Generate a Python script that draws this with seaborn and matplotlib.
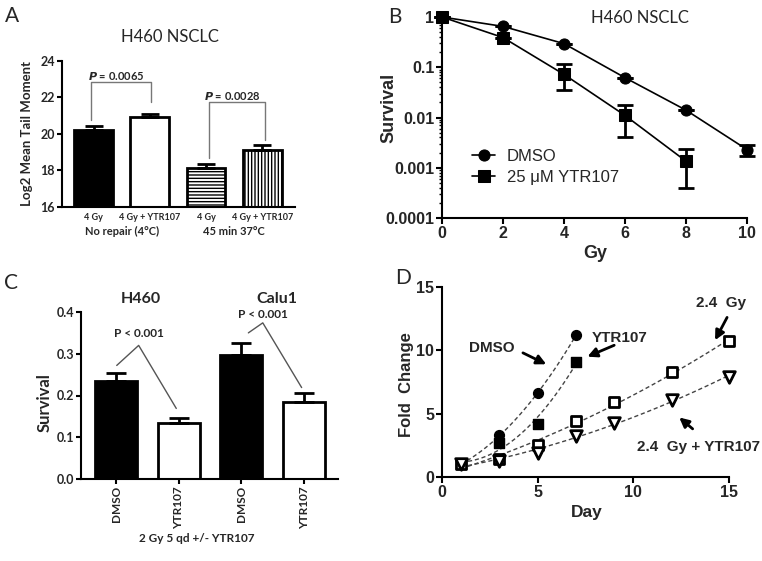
import numpy as np
import pandas as pd
import matplotlib
matplotlib.use("Agg")
import matplotlib.pyplot as plt
import seaborn as sns

W, H = 762, 561

# ---- panel A : comet assay, log2 mean tail moment
a_bars = ["4 Gy 4C", "4 Gy + YTR107 4C", "4 Gy 37C", "4 Gy + YTR107 37C"]
a_ticks = ["4 Gy", "4 Gy + YTR107", "4 Gy", "4 Gy + YTR107"]
a_groups = ["No repair (4°C)", "45 min 37°C"]
a_mean = [20.22, 20.93, 18.16, 19.10]
a_err = [0.22, 0.17, 0.18, 0.30]
a_pvals = ["0.0065", "0.0028"]

# ---- panel B : clonogenic survival
b_dose_dmso = [0, 2, 4, 6, 8, 10]
b_dmso = [1.0, 0.65, 0.295, 0.062, 0.014, 0.0023]
b_dmso_lo = [1.0, 0.65, 0.295, 0.062, 0.014, 0.0017]
b_dmso_hi = [1.0, 0.65, 0.295, 0.062, 0.014, 0.0028]
b_dose_ytr = [0, 2, 4, 6, 8]
b_ytr = [1.0, 0.39, 0.072, 0.011, 0.00135]
b_ytr_lo = [1.0, 0.39, 0.036, 0.0041, 0.00039]
b_ytr_hi = [1.0, 0.39, 0.118, 0.018, 0.0024]
b_names = ["DMSO", "25 \u03bcM YTR107"]
b_yticks = [0.0001, 0.001, 0.01, 0.1, 1]
b_ylabels = ["0.0001", "0.001", "0.01", "0.1", "1"]

# ---- panel C : fractionated survival
c_bars = ["DMSO H460", "YTR107 H460", "DMSO Calu1", "YTR107 Calu1"]
c_ticks = ["DMSO", "YTR107", "DMSO", "YTR107"]
c_lines = ["H460", "Calu1"]
c_mean = [0.234, 0.133, 0.297, 0.185]
c_err = [0.020, 0.012, 0.028, 0.020]

# ---- panel D : growth curves
d_days_short = [1, 3, 5, 7]
d_dmso = [1.0, 3.3, 6.6, 11.2]
d_ytr = [1.0, 2.7, 4.2, 9.1]
d_days_long = [1, 3, 5, 7, 9, 12, 15]
d_gy = [1.0, 1.4, 2.5, 4.4, 5.9, 8.3, 10.7]
d_gy_ytr = [1.0, 1.3, 1.9, 3.2, 4.3, 6.1, 7.9]

sns.set_style("ticks")
plt.rcParams["font.family"] = ["Liberation Sans", "DejaVu Sans"]
CAL = ["Lato", "DejaVu Sans"]


def box(l, t, r, b):
    return [l / W, 1 - b / H, (r - l) / W, (b - t) / H]


def style_axes(ax, lw=1.5, tl=3.5):
    sns.despine(ax=ax)
    for s in ["left", "bottom"]:
        ax.spines[s].set_linewidth(lw)
        ax.spines[s].set_color("black")
    ax.tick_params(width=lw, length=tl, color="black", direction="out", pad=1.5)


fig = plt.figure(figsize=(W / 100, H / 100), dpi=100)

# ================= A
axA = fig.add_axes(box(62, 61, 295, 207))
dfA = pd.DataFrame({"cond": a_bars, "val": a_mean})
sns.barplot(data=dfA, x="cond", y="val", ax=axA, width=0.69, color="white",
            saturation=1, edgecolor="black", linewidth=2, errorbar=None)
for p, fc, h in zip(axA.patches, ["black", "white", "white", "white"],
                    ["", "", "-----", "|||||"]):
    p.set_facecolor(fc)
    p.set_hatch(h)
axA.errorbar(range(4), a_mean, yerr=[np.zeros(4), a_err], fmt="none",
             ecolor="black", elinewidth=2, capsize=6.5, capthick=2, zorder=5)
axA.set_ylim(16, 24)
axA.set_xlim(-0.56, 3.58)
axA.set_yticks([16, 18, 20, 22, 24])
axA.set_yticklabels(["16", "18", "20", "22", "24"], fontfamily=CAL,
                    fontweight="bold", fontsize=9)
axA.set_xticks(range(4))
axA.set_xticklabels(a_ticks, fontfamily=CAL, fontweight="bold", fontsize=6.5)
style_axes(axA)
axA.tick_params(axis="x", length=0, pad=4)
axA.set_xlabel("")
axA.set_ylabel("")
for i, g in enumerate(a_groups):
    axA.text(2 * i + 0.5, -0.165, g, transform=axA.get_xaxis_transform(),
             ha="center", va="center", fontfamily=CAL, fontweight="bold",
             fontsize=8)
# significance brackets
br = [(-0.05, 1.02, 20.77, 21.77, 22.83), (2.05, 3.05, 18.67, 19.67, 21.74)]
for (x0, x1, y0, y1, top), pv in zip(br, a_pvals):
    axA.plot([x0, x0, x1, x1], [y0, top, top, y1], color="#777777", lw=1,
             clip_on=False)
    axA.text((x0 + x1) / 2 - 0.08, top + 0.35, "$\\mathbfit{P}$ = " + pv,
             ha="center", va="center", fontfamily=CAL, fontweight="bold",
             fontsize=8)
fig.text(27 / W, 1 - 134 / H, "Log2 Mean Tail Moment", rotation=90,
         ha="center", va="center", fontfamily=CAL, fontweight="bold",
         fontsize=9.5)
fig.text(170 / W, 1 - 37 / H, "H460 NSCLC", ha="center", va="center",
         fontfamily=CAL, fontsize=12)

# ================= B
axB = fig.add_axes(box(442, 17, 747, 218))
dfB = pd.DataFrame({
    "dose": b_dose_dmso + b_dose_ytr,
    "surv": b_dmso + b_ytr,
    "treat": [b_names[0]] * len(b_dmso) + [b_names[1]] * len(b_ytr),
})
sns.lineplot(data=dfB, x="dose", y="surv", style="treat",
             markers={b_names[0]: "o", b_names[1]: "s"}, dashes=False,
             color="black", markersize=8, linewidth=1.2,
             markeredgecolor="black", ax=axB)
for xs, ys, lo, hi in [(b_dose_dmso, b_dmso, b_dmso_lo, b_dmso_hi),
                       (b_dose_ytr, b_ytr, b_ytr_lo, b_ytr_hi)]:
    ys = np.array(ys)
    axB.errorbar(xs, ys, yerr=[ys - np.array(lo), np.array(hi) - ys],
                 fmt="none", ecolor="black", elinewidth=2, capsize=5.5,
                 capthick=2, clip_on=False)
for ln in axB.lines:
    ln.set_clip_on(False)
axB.set_yscale("log")
axB.set_ylim(1e-4, 1)
axB.set_xlim(0, 10)
axB.set_yticks(b_yticks)
axB.set_yticklabels(b_ylabels, fontweight="bold", fontsize=11.5)
axB.set_xticks([0, 2, 4, 6, 8, 10])
axB.set_xticklabels(["0", "2", "4", "6", "8", "10"], fontweight="bold",
                    fontsize=11.5)
style_axes(axB, lw=1.5, tl=4)
axB.tick_params(which="minor", width=1, length=2.5, color="black")
axB.set_xlabel("")
axB.set_ylabel("")
leg = axB.get_legend()
handles = leg.legend_handles
labels = [t.get_text() for t in leg.get_texts()]
axB.legend(handles, labels, loc="upper left",
           bbox_to_anchor=(472 / W, 1 - 149 / H),
           bbox_transform=fig.transFigure, frameon=False, fontsize=12,
           handlelength=1.4, handletextpad=0.7, labelspacing=0.35,
           borderpad=0, borderaxespad=0)
fig.text(595 / W, 1 - 253 / H, "Gy", ha="center", va="center",
         fontweight="bold", fontsize=13)
fig.text(389 / W, 1 - 108 / H, "Survival", rotation=90, ha="center",
         va="center", fontweight="bold", fontsize=13)
fig.text(640 / W, 1 - 18 / H, "H460 NSCLC", ha="center", va="center",
         fontfamily=CAL, fontsize=12)

# ================= C
axC = fig.add_axes(box(81, 312, 338, 479))
dfC = pd.DataFrame({"cond": c_bars, "val": c_mean})
sns.barplot(data=dfC, x="cond", y="val", ax=axC, width=0.67, color="white",
            saturation=1, edgecolor="black", linewidth=2, errorbar=None)
for p, fc in zip(axC.patches, ["black", "white", "black", "white"]):
    p.set_facecolor(fc)
axC.errorbar(range(4), c_mean, yerr=[np.zeros(4), c_err], fmt="none",
             ecolor="black", elinewidth=2, capsize=7.5, capthick=2, zorder=5)
axC.set_ylim(0, 0.4)
axC.set_xlim(-0.56, 3.54)
axC.set_yticks([0, 0.1, 0.2, 0.3, 0.4])
axC.set_yticklabels(["0.0", "0.1", "0.2", "0.3", "0.4"], fontfamily=CAL,
                    fontweight="bold", fontsize=9)
axC.set_xticks(range(4))
axC.set_xticklabels(c_ticks, rotation=90, fontfamily=CAL, fontweight="bold",
                    fontsize=8.5)
style_axes(axC)
axC.set_xlabel("")
axC.set_ylabel("")
for xs, ys, tx, ty in [([0.01, 0.36, 0.96], [0.272, 0.32, 0.169], 0.36, 0.349),
                       ([2.11, 2.34, 2.96], [0.35, 0.374, 0.219], 2.35, 0.393)]:
    axC.plot(xs, ys, color="#555555", lw=1, clip_on=False)
    axC.text(tx, ty, "P < 0.001", ha="center", va="center", fontfamily=CAL,
             fontweight="bold", fontsize=8.5)
for x, t in zip([141, 277], c_lines):
    fig.text(x / W, 1 - 299 / H, t, ha="center", va="center", fontfamily=CAL,
             fontweight="bold", fontsize=11.5)
fig.text(45 / W, 1 - 403 / H, "Survival", rotation=90, ha="center",
         va="center", fontfamily=CAL, fontweight="bold", fontsize=12)
fig.text(197 / W, 1 - 539 / H, "2 Gy 5 qd +/- YTR107", ha="center",
         va="center", fontfamily=CAL, fontweight="bold", fontsize=8.5)

# ================= D
axD = fig.add_axes(box(442, 287, 729, 477))
series = [(d_days_short, d_dmso, "o", "black", 50),
          (d_days_short, d_ytr, "s", "black", 50),
          (d_days_long, d_gy, "s", "white", 60),
          (d_days_long, d_gy_ytr, "v", "white", 70)]
for days, vals, mk, fc, sz in series:
    days = np.array(days, dtype=float)
    vals = np.array(vals)
    # second order polynomial fit through each growth series
    coef = np.polyfit(days, vals, 2)
    xs = np.linspace(days[0], days[-1], 100)
    sns.lineplot(x=xs, y=np.polyval(coef, xs), ax=axD,
                 color="#444444", lw=1, linestyle=(0, (3, 2)), zorder=2)
    sns.scatterplot(x=days, y=vals, ax=axD, marker=mk, s=sz, color=fc,
                    edgecolor="black", linewidth=2 if fc == "white" else 1,
                    zorder=3, clip_on=False)
axD.set_xlim(0, 15)
axD.set_ylim(0, 15)
axD.set_xticks([0, 5, 10, 15])
axD.set_xticklabels(["0", "5", "10", "15"], fontweight="bold", fontsize=11.5)
axD.set_yticks([0, 5, 10, 15])
axD.set_yticklabels(["0", "5", "10", "15"], fontweight="bold", fontsize=11.5)
style_axes(axD, lw=1.5, tl=4)
axD.set_xlabel("")
axD.set_ylabel("")
notes = [("DMSO", (2.6, 10.2), (4.23, 9.8), (5.45, 8.9)),
         ("YTR107", (9.3, 10.95), (9.0, 10.4), (7.6, 9.5)),
         ("2.4  Gy", (14.6, 13.7), (14.9, 12.6), (14.27, 10.8)),
         ("2.4  Gy + YTR107", (13.4, 2.37), (13.1, 3.8), (12.4, 4.7))]
for txt, tpos, tail, tip in notes:
    axD.text(tpos[0], tpos[1], txt, ha="center", va="center",
             fontweight="bold", fontsize=11)
    axD.annotate("", xy=tip, xytext=tail,
                 arrowprops=dict(arrowstyle="-|>", color="black", lw=2,
                                 mutation_scale=14, shrinkA=0, shrinkB=0))
fig.text(407 / W, 1 - 385 / H, "Fold  Change", rotation=90, ha="center",
         va="center", fontweight="bold", fontsize=12)
fig.text(587 / W, 1 - 513 / H, "Day", ha="center", va="center",
         fontweight="bold", fontsize=12.5)

# panel letters
for t, x, y in [("A", 12, 16), ("B", 395, 17), ("C", 11, 283), ("D", 403, 278)]:
    fig.text(x / W, 1 - y / H, t, ha="center", va="center", fontfamily=CAL,
             fontsize=15)

fig.savefig("out.png", dpi=100)
